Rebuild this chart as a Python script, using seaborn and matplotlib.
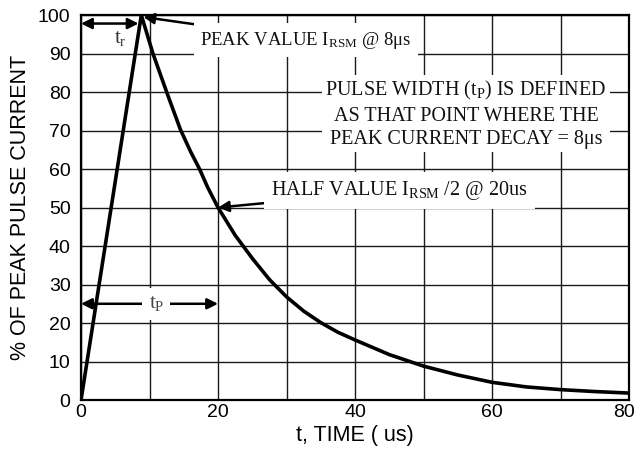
import matplotlib
matplotlib.use("Agg")
import matplotlib.pyplot as plt
from matplotlib.transforms import ScaledTranslation
import numpy as np
import pandas as pd
import seaborn as sns

# ---- data ----
time_us = [0, 8.8, 10.5, 12.5, 14.5, 16, 17.3, 18.5, 20, 22.5, 25, 27.5, 30, 32.5, 35, 37.5, 40,
           45, 50, 55, 60, 65, 70, 75, 80]
pct_peak = [0, 100, 90, 80, 70.3, 64.5, 60, 55.2, 50, 42.8, 36.8, 31.3, 26.8, 23.1, 20.1, 17.6, 15.6,
            11.8, 8.8, 6.5, 4.6, 3.4, 2.7, 2.2, 1.8]
x_ticks = [0, 20, 40, 60, 80]
x_grid = [0, 10, 20, 30, 40, 50, 60, 70, 80]
y_ticks = [0, 10, 20, 30, 40, 50, 60, 70, 80, 90, 100]

peak_label = "PEAK VALUE I$_{\\mathrm{RSM}}$ @ 8μs"
half_label = "HALF VALUE I$_{\\mathrm{RSM}}$ /2 @ 20us"
width_label = "PULSE WIDTH (t$_{\\mathrm{P}}$) IS DEFINED\nAS THAT POINT WHERE THE\nPEAK CURRENT DECAY = 8μs"
tr_label = "t$_{\\mathrm{r}}$"
tp_label = "t$_{\\mathrm{P}}$"
x_label = "t, TIME ( us)"
y_label = "% OF PEAK PULSE CURRENT"

sns.set_theme(style="white")
plt.rcParams["font.family"] = ["Liberation Sans", "DejaVu Sans"]
plt.rcParams["mathtext.fontset"] = "custom"
plt.rcParams["mathtext.rm"] = "Liberation Serif"
plt.rcParams["mathtext.it"] = "Liberation Serif:italic"

df = pd.DataFrame({"t": time_us, "pct": pct_peak})

fig = plt.figure(figsize=(6.38, 4.57), dpi=100)
ax = fig.add_axes([0.127, 0.1247, 0.859, 0.8423])

ax.set_xlim(0, 80)
ax.set_ylim(0, 100)
ax.set_xticks(x_ticks)
ax.set_xticks(x_grid, minor=True)
ax.set_yticks(y_ticks)
ax.grid(True, which="both", color="#1a1a1a", linewidth=1.0)
ax.set_axisbelow(True)
ax.tick_params(axis="both", which="both", length=0, labelsize=14, colors="black")
ax.tick_params(axis="x", pad=3)
ax.tick_params(axis="y", pad=7.5)
for s in ax.spines.values():
    s.set_linewidth(1.6)
    s.set_color("black")

sns.lineplot(data=df, x="t", y="pct", color="black", linewidth=2.6, ax=ax, zorder=5)

ax.set_xlabel(x_label, fontsize=15.5, color="black", labelpad=3)
ax.set_ylabel(y_label, fontsize=15.5, color="black", labelpad=5)

lbl = ax.get_xticklabels()[-1]
lbl.set_transform(lbl.get_transform() + ScaledTranslation(-4 / 72, 0, fig.dpi_scale_trans))

serif = ["Liberation Serif", "DejaVu Serif"]
arrow = dict(arrowstyle="-|>", color="black", lw=1.8, mutation_scale=16, shrinkA=0, shrinkB=0)
dbl = dict(arrowstyle="<|-|>", color="black", lw=1.8, mutation_scale=16, shrinkA=0, shrinkB=0)
box = dict(boxstyle="square,pad=0.35", fc="white", ec="none")

# t_r double arrow
ax.annotate("", xy=(0, 97.8), xytext=(8.4, 97.8), arrowprops=dbl, zorder=6)
ax.text(5.7, 94, tr_label, family=serif, fontsize=15, ha="center", va="center", color="#333", zorder=6)

# peak annotation
ax.annotate(peak_label, xy=(9.1, 99.5), xytext=(17.4, 93.5), family=serif, fontsize=13.5,
            ha="left", va="center", bbox=box, arrowprops=arrow, color="#111", zorder=7)

# pulse width definition
ax.text(56.2, 74.3, width_label, family=serif, fontsize=14.5, ha="center", va="center",
        linespacing=1.3, color="#111",
        bbox=dict(boxstyle="square,pad=0.15", fc="white", ec="none"), zorder=7)

# half value annotation
ax.annotate(half_label, xy=(20, 50), xytext=(27.8, 54.5), family=serif, fontsize=14.5,
            ha="left", va="center", bbox=box, arrowprops=arrow, color="#111", zorder=7)

# t_P double arrow
ax.annotate("", xy=(0, 25), xytext=(20, 25), arrowprops=dbl, zorder=6)
ax.text(11, 25, tp_label, family=serif, fontsize=15, ha="center", va="center", color="#444",
        bbox=dict(boxstyle="square,pad=0.3", fc="white", ec="none"), zorder=7)

fig.savefig("out.png", dpi=100)
